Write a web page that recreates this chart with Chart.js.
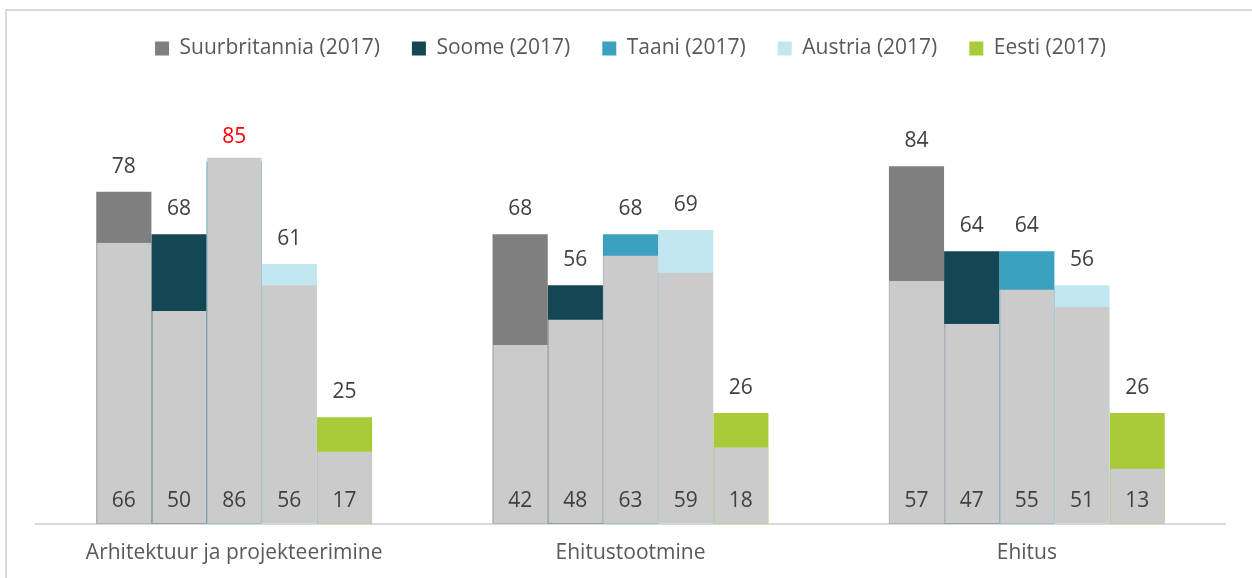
<!DOCTYPE html>
<html>
<head>
<meta charset="utf-8">
<script src="https://cdn.jsdelivr.net/npm/chart.js@4"></script>
<style>
    html, body { margin: 0; padding: 0; background: #fff; }
    #wrap { position: relative; width: 1252px; height: 578px; overflow: hidden; }
    #frame { position: absolute; left: 5px; top: 9px; width: 1320px; height: 700px; border: 2px solid #d9d9d9; box-sizing: border-box; }
    #chart { position: absolute; left: 0; top: 0; }
</style>
</head>
<body>
<div id="wrap">
    <div id="frame"></div>
    <canvas id="chart" width="1252" height="578"></canvas>
</div>
<script>
const categories = ['Arhitektuur ja projekteerimine', 'Ehitustootmine', 'Ehitus'];
const countries  = ['Suurbritannia (2017)', 'Soome (2017)', 'Taani (2017)', 'Austria (2017)', 'Eesti (2017)'];

// upper value (label above the bar) and grey base value (label at the bottom)
const ukTop  = [78, 68, 84];
const ukBase = [66, 42, 57];
const fiTop  = [68, 56, 64];
const fiBase = [50, 48, 47];
const dkTop  = [85, 68, 64];
const dkBase = [86, 63, 55];
const atTop  = [61, 69, 56];
const atBase = [56, 59, 51];
const eeTop  = [25, 26, 26];
const eeBase = [17, 18, 13];

const tops   = [ukTop, fiTop, dkTop, atTop, eeTop];
const bases  = [ukBase, fiBase, dkBase, atBase, eeBase];
const colors = ['#7f7f7f', '#144654', '#3ca1bf', '#c3e7f0', '#aacb39'];
const GREY   = '#cbcbcb';
const FONT   = '"Open Sans", sans-serif';

const greySets = bases.map((b, s) => ({
    label: 'base' + s,
    data: b,
    stack: 's' + s,
    backgroundColor: GREY,
    borderColor: '#b7c3c6',
    borderWidth: { left: 1, right: 0, top: 0, bottom: 0 },
    borderSkipped: false
}));
const colorSets = tops.map((t, s) => ({
    label: countries[s],
    data: t,
    stack: 's' + s,
    backgroundColor: colors[s],
    borderWidth: 0
}));

// extra room under the legend
const legendGap = {
    id: 'legendGap',
    beforeUpdate(chart) {
        const lg = chart.legend;
        if (lg && !lg._gapSet) {
            const fit = lg.fit;
            lg.fit = function () { fit.call(this); this.height += 29; };
            lg._gapSet = true;
        }
    }
};

const valueLabels = {
    id: 'valueLabels',
    afterDatasetsDraw(chart) {
        const ctx = chart.ctx;
        const zero = chart.scales.y.getPixelForValue(0);
        ctx.save();
        ctx.font = '21px ' + FONT;
        ctx.textAlign = 'center';
        ctx.textBaseline = 'middle';
        for (let s = 0; s < 5; s++) {
            chart.getDatasetMeta(s + 5).data.forEach((bar, i) => {
                const t = tops[s][i], b = bases[s][i];
                ctx.fillStyle = t < b ? '#ff0000' : '#404040';
                ctx.fillText(t, bar.x, bar.y - 25);
                ctx.fillStyle = '#404040';
                ctx.fillText(b, bar.x, zero - 23);
            });
        }
        ctx.restore();
    }
};

new Chart(document.getElementById('chart').getContext('2d'), {
    type: 'bar',
    data: { labels: categories, datasets: [...greySets, ...colorSets] },
    options: {
        responsive: false,
        animation: false,
        categoryPercentage: 0.696,
        barPercentage: 1,
        layout: { padding: { left: 36, right: 27, top: 6, bottom: 3 } },
        plugins: {
            legend: {
                position: 'top',
                labels: {
                    filter: item => item.datasetIndex >= 5,
                    boxWidth: 14, boxHeight: 14, padding: 32,
                    color: '#595959',
                    font: { family: FONT, size: 21 }
                }
            },
            tooltip: { enabled: false }
        },
        scales: {
            x: {
                grid: { display: false },
                border: { color: '#d9d9d9', width: 2 },
                ticks: { color: '#595959', font: { family: FONT, size: 21 }, padding: 9 }
            },
            y: { display: false, stacked: false, min: 0, max: 100 }
        }
    },
    plugins: [legendGap, valueLabels]
});
</script>
</body>
</html>
